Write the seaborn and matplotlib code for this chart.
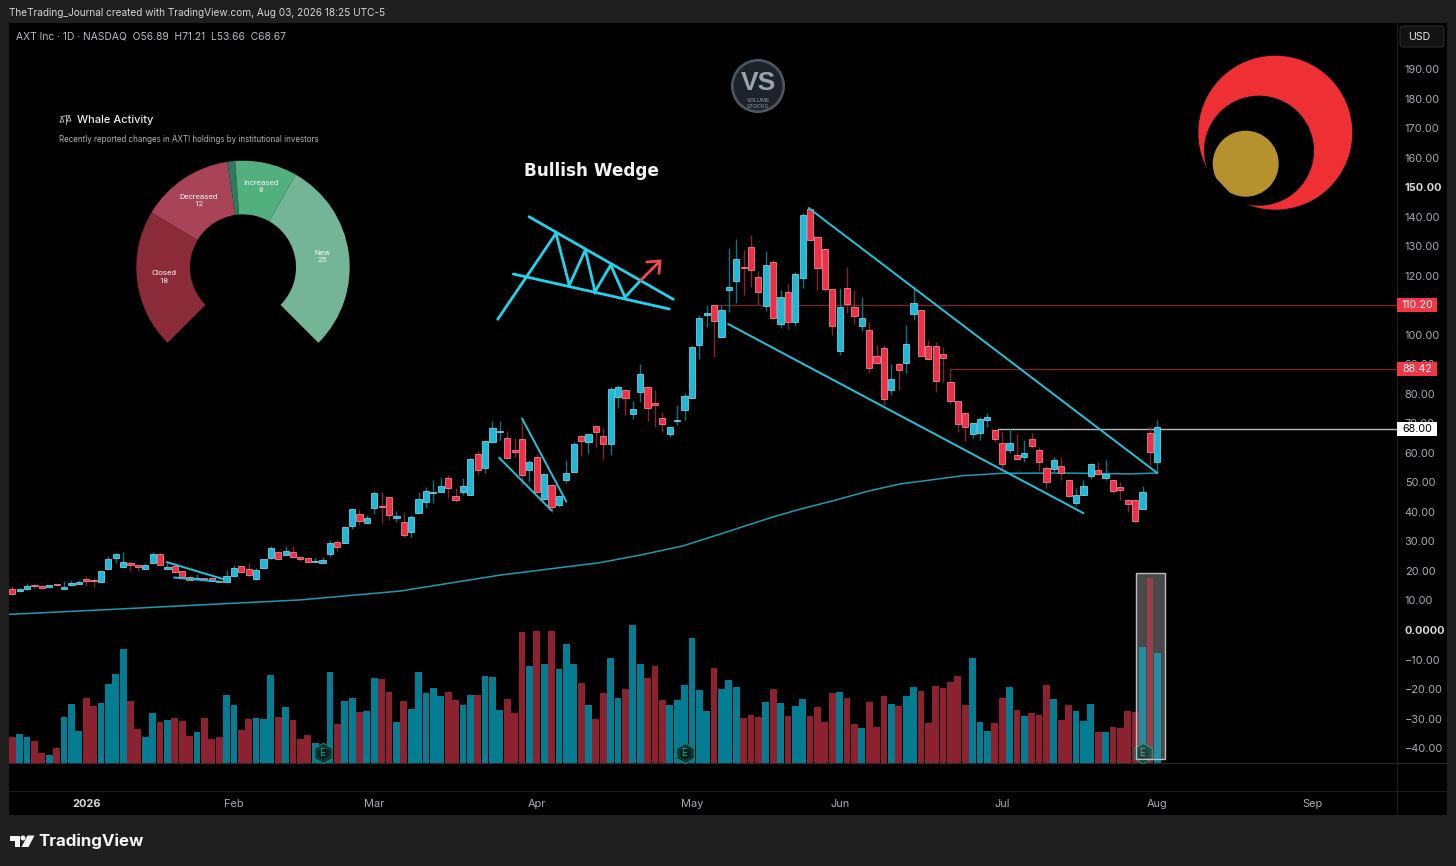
import numpy as np
import pandas as pd
import matplotlib.pyplot as plt
import seaborn as sns
from matplotlib.patches import Rectangle, Circle, Polygon, FancyBboxPatch

# candles (price units)
body_hi = [13.9, 14.0, 14.8, 15.4, 15.0, 15.1, 15.6, 14.6, 15.8, 16.4,
           17.3, 17.0, 20.0, 24.1, 25.9, 23.0, 22.7, 22.0, 22.0, 25.8,
           25.9, 21.5, 21.8, 19.9, 17.8, 17.7, 17.5, 17.7, 16.6, 18.4,
           21.0, 21.6, 20.8, 20.3, 23.9, 27.7, 26.4, 26.8, 26.6, 24.6,
           24.3, 23.4, 23.7, 29.6, 29.9, 35.0, 40.9, 39.3, 38.0, 46.3,
           42.0, 45.0, 38.7, 36.5, 38.4, 44.3, 47.2, 46.8, 48.8, 51.4,
           45.4, 48.8, 57.9, 59.8, 64.2, 68.3, 67.4, 64.9, 61.1, 64.7,
           56.9, 58.7, 52.7, 49.3, 45.4, 53.2, 63.0, 65.9, 66.3, 69.0,
           65.7, 81.6, 82.4, 81.5, 74.8, 86.7, 82.5, 77.0, 71.7, 68.7,
           71.0, 79.2, 95.9, 105.8, 107.5, 110.0, 108.3, 116.2, 125.7, 123.1,
           129.7, 119.5, 123.7, 124.6, 112.8, 114.7, 120.8, 140.7, 142.5, 133.3,
           129.2, 115.4, 109.3, 115.8, 109.5, 105.9, 101.5, 92.8, 95.4, 85.2,
           90.3, 96.9, 110.7, 108.4, 96.3, 96.4, 93.4, 83.9, 77.5, 73.4,
           70.0, 71.4, 72.1, 67.9, 63.3, 63.4, 59.2, 59.9, 64.6, 61.0,
           54.9, 57.5, 55.7, 50.7, 45.6, 48.8, 56.4, 54.1, 52.9, 51.0,
           48.5, 44.2, 43.9, 46.9, 66.6, 68.67]
body_lo = [12.3, 13.2, 13.8, 15.0, 14.3, 14.6, 15.2, 13.9, 15.2, 15.7,
           16.5, 16.5, 16.4, 20.8, 24.3, 21.5, 22.1, 21.5, 20.8, 22.7,
           21.9, 20.7, 19.6, 17.8, 17.0, 17.3, 16.9, 16.7, 16.1, 16.4,
           18.2, 19.7, 18.5, 17.3, 21.1, 24.3, 24.2, 25.5, 24.6, 24.1,
           23.0, 23.0, 22.8, 25.7, 28.2, 29.6, 35.3, 36.9, 36.4, 41.5,
           41.7, 39.1, 38.0, 32.2, 33.3, 39.7, 43.4, 46.5, 46.9, 48.2,
           44.1, 46.7, 45.7, 54.1, 55.0, 63.7, 67.1, 58.3, 60.4, 52.5,
           54.2, 46.9, 44.5, 41.8, 42.3, 50.8, 53.6, 64.1, 63.7, 67.1,
           62.9, 62.9, 79.1, 78.7, 73.3, 80.7, 75.2, 76.1, 69.9, 66.4,
           70.7, 74.5, 78.6, 96.7, 106.6, 104.7, 99.3, 115.1, 118.1, 122.7,
           121.9, 114.6, 109.9, 105.8, 103.8, 104.5, 104.4, 119.4, 132.3, 122.7,
           115.4, 103.1, 94.7, 110.6, 106.5, 103.1, 88.9, 90.6, 78.3, 81.4,
           88.2, 90.4, 107.2, 92.8, 91.9, 84.4, 92.3, 77.7, 69.9, 68.9,
           66.5, 66.9, 71.0, 64.8, 56.4, 61.1, 58.0, 58.6, 62.4, 57.0,
           50.3, 54.7, 53.2, 45.3, 43.2, 45.9, 52.2, 53.0, 51.4, 47.2,
           47.6, 42.7, 36.8, 41.1, 60.2, 56.89]
high = [14.9, 14.2, 16.0, 15.5, 15.1, 15.3, 15.7, 16.5, 17.1, 16.9,
        18.2, 17.5, 20.3, 25.2, 26.2, 26.3, 23.5, 22.4, 22.3, 26.5,
        26.1, 22.6, 22.6, 20.2, 18.5, 19.0, 17.6, 17.9, 16.8, 20.3,
        22.1, 21.8, 22.6, 20.9, 24.2, 28.6, 26.7, 28.5, 28.6, 25.1,
        24.5, 24.3, 24.6, 30.6, 30.6, 35.2, 41.1, 40.9, 39.0, 47.2,
        46.8, 45.2, 40.4, 40.1, 39.0, 46.9, 48.5, 50.8, 51.9, 52.5,
        48.0, 51.4, 58.2, 60.6, 64.4, 70.8, 70.9, 67.5, 64.9, 71.1,
        57.6, 59.8, 53.0, 49.5, 45.6, 57.6, 63.8, 66.1, 66.5, 69.2,
        68.3, 82.4, 83.0, 81.7, 77.6, 90.0, 82.6, 81.3, 74.0, 68.9,
        76.2, 80.4, 96.2, 106.7, 110.1, 110.3, 110.1, 129.3, 132.4, 128.8,
        133.8, 121.7, 128.4, 125.4, 115.2, 117.1, 121.4, 141.2, 143.4, 133.4,
        129.3, 115.5, 115.8, 123.1, 115.2, 112.9, 104.5, 96.6, 96.6, 90.3,
        90.4, 103.3, 116.1, 108.5, 98.3, 97.7, 96.0, 84.0, 77.6, 73.5,
        70.1, 72.3, 73.4, 68.0, 67.2, 68.0, 66.3, 64.4, 66.6, 61.9,
        55.6, 58.5, 58.5, 50.8, 48.0, 50.8, 56.5, 56.8, 57.6, 51.1,
        50.0, 44.3, 44.0, 48.9, 68.7, 71.21]
low = [12.3, 13.0, 13.6, 13.9, 14.2, 14.5, 15.1, 13.9, 15.0, 15.6,
       14.9, 14.6, 16.3, 20.8, 22.8, 21.5, 19.9, 19.9, 20.6, 22.7,
       21.9, 20.6, 19.4, 17.5, 16.9, 17.2, 16.8, 16.6, 16.0, 16.3,
       18.1, 19.2, 17.8, 17.0, 20.9, 24.2, 23.9, 25.4, 24.6, 23.5,
       22.9, 22.9, 22.7, 24.8, 26.8, 29.5, 34.1, 35.6, 36.3, 39.3,
       36.4, 37.3, 36.6, 31.5, 31.5, 39.5, 41.5, 42.9, 46.6, 44.9,
       43.4, 45.7, 45.6, 52.5, 53.3, 63.5, 64.4, 58.2, 58.7, 49.1,
       50.2, 46.8, 44.2, 40.1, 41.8, 49.7, 53.5, 58.9, 59.8, 62.1,
       57.9, 59.3, 75.3, 72.8, 71.4, 77.4, 70.9, 68.9, 67.2, 65.5,
       69.5, 71.1, 78.5, 92.0, 102.8, 92.6, 99.2, 107.9, 110.9, 113.5,
       116.3, 110.1, 108.2, 105.3, 102.4, 102.0, 103.0, 115.8, 132.2, 115.2,
       114.6, 99.9, 93.2, 107.5, 103.7, 101.4, 87.0, 90.3, 76.2, 79.6,
       81.5, 87.0, 105.0, 92.7, 91.5, 80.7, 84.1, 76.6, 67.2, 64.0,
       65.2, 64.4, 68.9, 63.8, 54.4, 59.9, 57.9, 57.0, 61.6, 54.0,
       48.0, 53.1, 50.8, 45.2, 42.0, 45.8, 51.3, 52.5, 50.8, 46.3,
       44.0, 40.1, 36.7, 41.0, 55.9, 53.66]
direction = list("rbbrrbrbbb" "rrbbbbrrbb" "rbrrrbrrrb" "brrbbbrbrr"
                 "rbbbrbbrbb" "rrbrbbbbbr" "rbbrbbbrrr" "brbrbbbrbr"
                 "rbbrbbrrrb" "bbbbbrbbbr" "rrbrbrbbrr" "rrbrrbrrrb"
                 "rbbrrrrrrr" "bbbrrbrbrr" "rbrrbbbrbr" "rrrbrb")

# volume, arbitrary units since the chart has no volume scale
volume = [26, 29, 26, 22, 10, 8, 15, 46, 59, 32,
          65, 57, 60, 79, 89, 114, 62, 34, 26, 50,
          41, 43, 45, 42, 27, 31, 45, 24, 26, 68,
          58, 33, 44, 45, 44, 88, 46, 56, 43, 24,
          28, 20, 18, 91, 39, 62, 65, 51, 52, 85,
          84, 71, 41, 62, 54, 91, 70, 75, 67, 71,
          63, 58, 68, 68, 87, 86, 53, 64, 50, 131,
          97, 132, 99, 132, 94, 119, 99, 80, 58, 44,
          70, 105, 65, 74, 138, 99, 85, 97, 63, 58,
          63, 78, 125, 73, 52, 95, 74, 83, 76, 45,
          48, 46, 61, 74, 60, 47, 57, 64, 47, 56,
          41, 70, 71, 65, 39, 35, 61, 36, 67, 59,
          57, 67, 76, 72, 40, 77, 75, 81, 87, 58,
          105, 41, 32, 40, 65, 76, 53, 47, 50, 48,
          78, 64, 43, 58, 52, 42, 59, 31, 31, 36,
          35, 52, 51, 116, 185, 110]

# moving average, read at a few bars
ma_idx = [-0.5, 12, 25.4, 39, 52.5, 66, 79.5, 85, 90.8, 95.8, 101.6, 103.9, 106.6, 111.4, 116.1, 120.2, 124.2, 128.7, 134, 142.2, 151.3, 155]
ma_val = [5.3, 6.8, 8.5, 10.2, 13.2, 18.6, 22.8, 25.4, 28.5, 32.5, 37.2, 39.0, 40.9, 44.0, 47.2, 49.5, 50.8, 52.3, 53.1, 53.2, 52.9, 53.2]

# trend lines drawn on the chart: (bar, price) ends
trend_lines = [
    ((107.8, 143.0), (155.0, 53.2)),
    ((96.9, 103.7), (145.0, 39.6)),
    ((69.0, 71.7), (75.0, 43.5)),
    ((65.9, 58.4), (73.0, 40.5)),
    ((20.9, 23.0), (28.5, 17.3)),
    ((21.9, 17.8), (28.0, 16.4)),
]

levels = [110.20, 88.42, 68.00]
level_start = [94.8, 127, 133.4]
level_colors = ['#7a2226', '#7a2226', '#b9b9b9']
tag_colors = ['#f23645', '#f23645', '#ffffff']
tag_text = ['#ffffff', '#ffffff', '#000000']

month_idx = [10, 30, 49, 71, 92, 112, 134, 155, 176]
month_labels = ['2026', 'Feb', 'Mar', 'Apr', 'May', 'Jun', 'Jul', 'Aug', 'Sep']
price_ticks = list(range(-40, 200, 10))
earnings_idx = [42, 91, 153]

whale_labels = ['Closed', 'Decreased', '', 'Increased', 'New']
whale_counts = [18, 12, 1, 8, 25]
whale_colors = ['#8b2a38', '#a84358', '#2f7a5c', '#52b07f', '#74b598']

# pixel geometry of the source screenshot
W, H = 1456, 866
BLUE, RED = '#1cb9d9', '#ef2f48'
VOL_COLORS = {'b': '#047c92', 'r': '#8c2230'}

sns.set_theme(style='dark', rc={'axes.grid': False})
plt.rcParams['font.family'] = ['Inter', 'DejaVu Sans']

df = pd.DataFrame({'idx': range(len(volume)), 'vol': volume, 'dir': direction,
                   'hi': body_hi, 'lo': body_lo, 'high': high, 'low': low})

fig = plt.figure(figsize=(W / 100, H / 100), dpi=100, facecolor='#1f1f1f')


def px_axes(zorder):
    a = fig.add_axes([0, 0, 1, 1], zorder=zorder)
    a.set_xlim(0, W)
    a.set_ylim(H, 0)
    a.axis('off')
    a.patch.set_alpha(0)
    return a


# background panels
bg = px_axes(0)
bg.add_patch(Rectangle((9, 23), 1438, 792, fc='black', ec='none'))
bg.plot([9, 1447], [763, 763], color='#2b2b2b', lw=0.8)
bg.plot([9, 1447], [790.7, 790.7], color='#1c1c1c', lw=0.8)
bg.plot([1397, 1397], [23, 815], color='#1c1c1c', lw=0.8)

# price pane
ax = fig.add_axes([9 / W, 1 - 763 / H, 1388 / W, 740 / H], zorder=2)
ax.patch.set_alpha(0)
vol_ax = fig.add_axes(ax.get_position(), zorder=1)
vol_ax.patch.set_alpha(0)

# volume bars
sns.barplot(data=df, x='idx', y='vol', hue='dir', palette=VOL_COLORS, native_scale=True,
            dodge=False, width=0.92, errorbar=None, legend=False, ax=vol_ax,
            saturation=1, edgecolor='none', linewidth=0)

# moving average
sns.lineplot(x=ma_idx, y=ma_val, color='#1a9db3', lw=1.1, ax=ax, sort=False, errorbar=None)

# candles
for d, body, wick, edge in [('b', BLUE, '#0e7285', '#8fe3f2'), ('r', RED, '#85242f', '#ff9aa6')]:
    s = df[df['dir'] == d]
    ax.vlines(s['idx'], s['low'], s['high'], color=wick, lw=1.0, zorder=3)
    ax.bar(s['idx'], s['hi'] - s['lo'], bottom=s['lo'], width=0.84, color=body,
           edgecolor=edge, linewidth=0.5, zorder=4)

# drawings
for (x0, y0), (x1, y1) in trend_lines:
    ax.plot([x0, x1], [y0, y1], color='#22c4dc', lw=1.4, zorder=5, solid_capstyle='round')

for lv, start, c in zip(levels, level_start, level_colors):
    ax.plot([start, 188], [lv, lv], color=c, lw=1.0, zorder=2)
ax.plot([127, 127], [83.9, 88.42], color=level_colors[1], lw=1.0, zorder=2)

# highlight on the last three bars: grey under them, a light wash over them
vol_ax.add_patch(Rectangle((152.08, 4.3), 4.0, 185.7, fc='#2e2e2e', ec='none', zorder=0.5))
ax.add_patch(Rectangle((152.08, -43.6), 4.0, 62.9, fc='#ffffff', alpha=0.13, ec='none', zorder=6))
ax.add_patch(Rectangle((152.08, -43.6), 4.0, 62.9, fc='none', ec='#bdbdbd', lw=1.0, zorder=6))

# earnings badges
vol_y = [10] * len(earnings_idx)
vol_ax.scatter(earnings_idx, vol_y, marker='h', s=210, fc='#07231f', ec='#14806f', lw=1.0, zorder=5)
vol_ax.scatter(earnings_idx, vol_y, marker='h', s=110, fc='#07231f', ec='#0d4d44', lw=0.7, zorder=5)
for e in earnings_idx:
    vol_ax.text(e, 10, 'E', color='#25a08c', fontsize=7, ha='center', va='center', zorder=6)

# scales
ax.set_xlim(-0.447, 187.45)
ax.set_ylim(-45.07, 205.7)
vol_ax.set_xlim(ax.get_xlim())
vol_ax.set_ylim(0, 740)
vol_ax.set_xticks([])
vol_ax.set_yticks([])
vol_ax.set_xlabel('')
vol_ax.set_ylabel('')
for a in (ax, vol_ax):
    for sp in a.spines.values():
        sp.set_visible(False)

ax.yaxis.tick_right()
ax.set_yticks(price_ticks)
# the 110 label sits fully under its price tag in the reference
ax.set_yticklabels(['' if t == 110 else '0.0000' if t == 0 else f'{t:.2f}'.replace('-', '\u2212') for t in price_ticks])
ax.tick_params(axis='y', length=0, pad=5.5, labelsize=7.9, labelcolor='#a9acb3')
for t, lab in zip(price_ticks, ax.get_yticklabels()):
    if t in (0, 150):
        lab.set_fontweight('bold')
        lab.set_color('#d8d8d8')

ax.set_xticks(month_idx)
ax.set_xticklabels(month_labels)
ax.tick_params(axis='x', length=0, pad=25.7, labelsize=7.9, labelcolor='#a9acb3')
ax.get_xticklabels()[0].set_fontweight('bold')
ax.get_xticklabels()[0].set_color('#d8d8d8')
ax.set_xlabel('')
ax.set_ylabel('')

# price tags on the scale
yt = ax.get_yaxis_transform()
for lv, c, tc in zip(levels, tag_colors, tag_text):
    ax.add_patch(Rectangle((1.0, lv - 2.4), 40 / 1388, 4.8, transform=yt, fc=c, ec='none', zorder=8, clip_on=False))
    ax.text(1 + 20 / 1388, lv, f'{lv:.2f}', transform=yt, color=tc, fontsize=7.7,
            va='center', ha='center', zorder=9)

# overlay: headers, whale panel, logos, wedge sketch
ov = px_axes(3)
ov.text(9, 13, 'TheTrading_Journal created with TradingView.com, Aug 03, 2026 18:25 UTC-5',
        color='#d6d6d6', fontsize=7.25, va='center')
ov.text(16, 36, 'AXT Inc \u00b7 1D \u00b7 NASDAQ  O56.89  H71.21  L53.66  C68.67', color='#b8bbc2',
        fontsize=7.4, va='center')
ov.add_patch(FancyBboxPatch((1401, 27), 42, 19, boxstyle='round,pad=1,rounding_size=3',
                            fc='#131313', ec='#2c2c2c', lw=0.8))
ov.text(1408, 36.5, 'USD', color='#e8e8e8', fontsize=7.6, va='center')

# whale gauge
ov.text(77, 120, 'Whale Activity', color='#ededed', fontsize=8, fontweight='medium', va='center')
ov.text(59, 139, 'Recently reported changes in AXTI holdings by institutional investors',
        color='#b5b5b5', fontsize=5.73, va='center')
ov.plot([61, 70], [116.5, 115.5], color='#bdbdbd', lw=0.6)
ov.plot([65.5, 65.5], [114.5, 123.5], color='#bdbdbd', lw=0.6)
ov.plot([60, 62, 64, 60], [122, 117, 122, 122], color='#bdbdbd', lw=0.6)
ov.plot([67, 69, 71, 67], [121, 116, 121, 121], color='#bdbdbd', lw=0.6)

R = 106.7
pie_ax = fig.add_axes([(243 - R) / W, 1 - (267.4 + R) / H, 2 * R / W, 2 * R / H], zorder=2.5)
gap = sum(whale_counts) / 3
wedges, _ = pie_ax.pie(whale_counts + [gap], colors=whale_colors + ['none'], startangle=225,
                       counterclock=False, radius=1.0, wedgeprops=dict(width=0.503, lw=0))
pie_ax.set_xlim(-1, 1)
pie_ax.set_ylim(-1, 1)
label_pos = [(163.7, 277), (198.7, 200.5), None, (261, 186.5), (322.3, 256.5)]
for lab, n, pos in zip(whale_labels, whale_counts, label_pos):
    if pos:
        ov.text(pos[0], pos[1], f'{lab}\n{n}', color='#f4f4f4', fontsize=5.9, ha='center', va='center',
                linespacing=1.3, family='Roboto')

# bullish wedge sketch
WEDGE = '#22d3ea'
ov.text(524, 171, 'Bullish Wedge', color='#f2f2f2', fontsize=12.2, fontweight='bold', va='center',
        family='DejaVu Sans')
ov.plot([529, 673.3], [216.7, 299.3], color=WEDGE, lw=2.0)
ov.plot([513.3, 669.3], [274, 309], color=WEDGE, lw=2.0)
ov.plot([497.7, 556, 569.3, 585.3, 595, 610.7, 625, 641], [319.3, 233.3, 285.3, 250, 291.7, 265, 297.3, 280],
        color=WEDGE, lw=2.0, solid_joinstyle='miter')
ov.plot([641, 660], [280, 261], color='#ee4b4b', lw=2.0)
ov.plot([646.7, 660, 659], [262, 261, 273.3], color='#ee4b4b', lw=2.0)

# red crescent logo
ov.add_patch(Circle((1275.3, 132.7), 77, fc='#ee2f33', ec='none'))
ov.add_patch(Circle((1259, 150.7), 55, fc='black', ec='none'))
ov.add_patch(Polygon([(1190, 150), (1205, 172), (1249, 212), (1190, 212)], fc='black', ec='none'))
ov.add_patch(Circle((1245.7, 163.7), 33, fc='#b6922f', ec='none'))
ov.add_patch(Polygon([(1213, 175), (1230, 193), (1210, 200), (1200, 180)], fc='black', ec='none'))

# VS badge
ov.add_patch(Circle((758, 86), 27, fc='#4f5a63', ec='none'))
ov.add_patch(Circle((758, 86), 24.5, fc='#1d2328', ec='#39434b', lw=0.6))
ov.text(758, 82.5, 'VS', color='#98a4ad', fontsize=19, fontweight='bold', ha='center', va='center',
        family='Liberation Sans')
ov.text(758, 103.5, 'VOLUME\nSTOCKS', color='#8f9aa3', fontsize=3.9, ha='center', va='center', linespacing=1.35)

# TradingView footer
ov.add_patch(Polygon([(9.5, 835.5), (20, 835.5), (20, 847), (14.5, 847), (14.5, 840.5), (9.5, 840.5)], fc='#f4f4f4', ec='none'))
ov.add_patch(Circle((23, 838), 2.5, fc='#f4f4f4', ec='none'))
ov.add_patch(Polygon([(27.5, 835.5), (34.5, 835.5), (28.5, 847), (21.5, 847)], fc='#f4f4f4', ec='none'))
ov.text(38, 841, 'TradingView', color='#f4f4f4', fontsize=12.2, fontweight='bold', va='center')

fig.savefig('out.png', dpi=100, facecolor=fig.get_facecolor())
